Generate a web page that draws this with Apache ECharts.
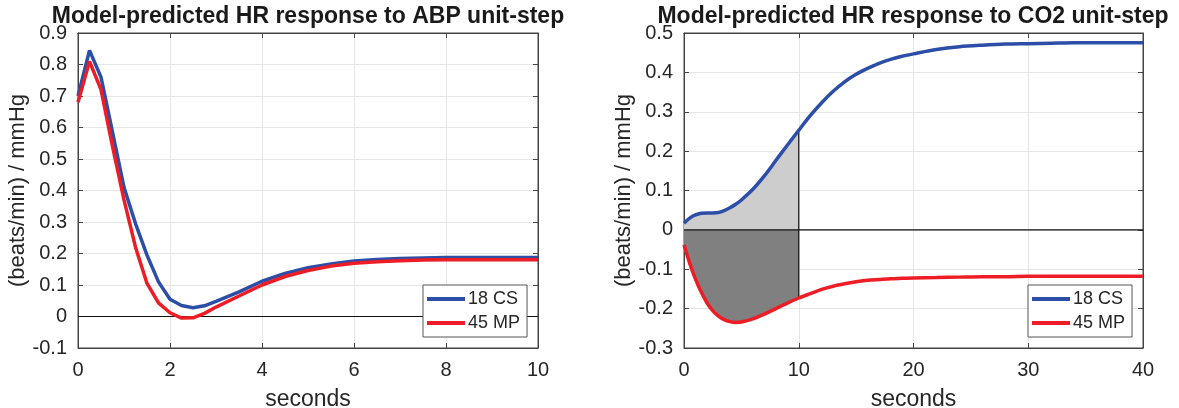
<!DOCTYPE html>
<html>
<head>
<meta charset="utf-8">
<script src="https://cdn.jsdelivr.net/npm/echarts@6/dist/echarts.min.js"></script>
<style>
  html, body { margin: 0; padding: 0; background: #fff; }
  #chart { width: 1179px; height: 408px; }
</style>
</head>
<body>
<div id="chart"></div>
<script>
// ABP unit-step response, sampled every 0.25 s early on
const abpTime = [0, 0.25, 0.5, 0.75, 1, 1.25, 1.5, 1.75, 2, 2.25, 2.5, 2.75, 3,
                 3.5, 4, 4.5, 5, 5.5, 6, 6.5, 7, 7.5, 8, 8.5, 9, 9.5, 10];
const abpCS = [0.70, 0.845, 0.76, 0.585, 0.41, 0.295, 0.195, 0.11, 0.055, 0.035, 0.028, 0.034, 0.048,
               0.078, 0.112, 0.137, 0.155, 0.167, 0.176, 0.181, 0.184, 0.186, 0.187, 0.187, 0.187, 0.187, 0.187];
const abpMP = [0.68, 0.81, 0.72, 0.54, 0.37, 0.22, 0.105, 0.043, 0.012, -0.005, -0.004, 0.01, 0.03,
               0.065, 0.10, 0.127, 0.146, 0.16, 0.169, 0.174, 0.177, 0.179, 0.18, 0.18, 0.18, 0.18, 0.18];

// CO2 unit-step response
const co2Time = [0, 0.5, 1, 1.5, 2, 2.5, 3, 3.5, 4, 4.5, 5, 6, 7, 8, 9, 10, 11, 12, 13, 14, 15, 16, 17, 18, 19, 20,
                 22, 24, 26, 28, 30, 32, 34, 36, 38, 40];
const co2CS = [0.017, 0.030, 0.038, 0.042, 0.043, 0.043, 0.044, 0.049, 0.056, 0.065, 0.076, 0.103, 0.137, 0.176, 0.215, 0.253,
               0.290, 0.323, 0.352, 0.376, 0.395, 0.410, 0.423, 0.433, 0.441, 0.447,
               0.458, 0.465, 0.469, 0.472, 0.473, 0.474, 0.475, 0.475, 0.475, 0.475];
const co2MP = [-0.038, -0.085, -0.125, -0.158, -0.185, -0.205, -0.219, -0.228, -0.233, -0.235, -0.234, -0.226, -0.214, -0.200, -0.186, -0.173,
               -0.162, -0.151, -0.143, -0.137, -0.132, -0.128, -0.126, -0.124, -0.123, -0.122,
               -0.121, -0.120, -0.119, -0.119, -0.118, -0.118, -0.118, -0.118, -0.118, -0.118];

// Interval over which the CO2 responses are shaded
const shadeEnd = 10;

const seriesNames = ['18 CS', '45 MP'];
const titles = ['Model-predicted HR response to ABP unit-step', 'Model-predicted HR response to CO2 unit-step'];
const yName = '(beats/min) / mmHg';
const xName = 'seconds';

const BLUE = '#2c4ea6';
const RED = '#ee1c25';
const FONT = '"Liberation Sans", Arial, sans-serif';
const SMOOTH = 0.3;

const pairs = (t, v) => t.map((x, i) => [x, v[i]]);
const shadeIdx = co2Time.indexOf(shadeEnd);

const gridBase = { top: 33, height: 315, show: true, borderColor: '#444', borderWidth: 1,
                   containLabel: false, outerBoundsMode: 'none' };
const grids = [
  Object.assign({ left: 78, width: 460 }, gridBase),
  Object.assign({ left: 684, width: 459 }, gridBase)
];

function mainX(gridIndex, max, interval) {
  return {
    type: 'value', gridIndex, min: 0, max, interval, position: 'bottom',
    name: xName, nameLocation: 'middle', nameGap: 40,
    nameTextStyle: { fontFamily: FONT, fontSize: 23, color: '#262626' },
    axisLine: { show: true, onZero: false, lineStyle: { color: '#444' } },
    axisTick: { show: true, inside: true, length: 5, lineStyle: { color: '#444' } },
    axisLabel: { fontFamily: FONT, fontSize: 20, color: '#262626', margin: 12 },
    splitLine: { show: true, lineStyle: { color: '#e6e6e6', width: 1 } }
  };
}
function topX(gridIndex, max, interval) {
  return {
    type: 'value', gridIndex, min: 0, max, interval, position: 'top',
    axisLine: { show: true, onZero: false, lineStyle: { color: '#444' } },
    axisTick: { show: true, inside: true, length: 5, lineStyle: { color: '#444' } },
    axisLabel: { show: false }, splitLine: { show: false }
  };
}
function mainY(gridIndex, min, max) {
  return {
    type: 'value', gridIndex, min, max, interval: 0.1, position: 'left',
    name: yName, nameLocation: 'middle', nameGap: 40, nameRotate: 90,
    nameTextStyle: { fontFamily: FONT, fontSize: 22, color: '#262626' },
    axisLine: { show: true, onZero: false, lineStyle: { color: '#444' } },
    axisTick: { show: true, inside: true, length: 5, lineStyle: { color: '#444' } },
    axisLabel: {
      fontFamily: FONT, fontSize: 20, color: '#262626', margin: 11,
      formatter: v => (Math.abs(v) < 1e-9 ? '0' : String(+v.toFixed(1)))
    },
    splitLine: { show: true, lineStyle: { color: '#e6e6e6', width: 1 } }
  };
}
function rightY(gridIndex, min, max) {
  return {
    type: 'value', gridIndex, min, max, interval: 0.1, position: 'right',
    axisLine: { show: true, onZero: false, lineStyle: { color: '#444' } },
    axisTick: { show: true, inside: true, length: 5, lineStyle: { color: '#444' } },
    axisLabel: { show: false }, splitLine: { show: false }
  };
}

function curve(name, data, color, xi, yi, smooth) {
  return {
    name, type: 'line', data, xAxisIndex: xi, yAxisIndex: yi,
    showSymbol: false, symbol: 'none', smooth, z: 5,
    lineStyle: { color, width: 3.5 }, itemStyle: { color }
  };
}
function shade(data, color, xi, yi) {
  return {
    type: 'line', data, xAxisIndex: xi, yAxisIndex: yi,
    showSymbol: false, symbol: 'none', smooth: SMOOTH, z: 2,
    lineStyle: { width: 0 }, areaStyle: { color, opacity: 1, origin: 0 }, silent: true
  };
}
function refLine(data, xi, yi) {
  return {
    type: 'line', data, xAxisIndex: xi, yAxisIndex: yi, z: 3,
    showSymbol: false, symbol: 'none', lineStyle: { color: '#111', width: 1.2 }, silent: true
  };
}
function legendAt(left) {
  return {
    data: seriesNames, orient: 'vertical', left, top: 285,
    backgroundColor: '#fff', borderColor: '#555', borderWidth: 1,
    padding: [5, 7, 5, 4], itemGap: 6, itemWidth: 38, itemHeight: 4, icon: 'rect',
    itemStyle: { borderWidth: 0 },
    textStyle: { fontFamily: FONT, fontSize: 18, color: '#262626', padding: [0, 0, 0, -2] }
  };
}
function titleAt(cx, text) {
  return {
    type: 'text', x: cx, y: 5,
    style: { text, font: 'bold 23px ' + FONT, fill: '#1a1a1a', align: 'center', verticalAlign: 'top' }
  };
}

const option = {
  animation: false,
  backgroundColor: '#fff',
  grid: grids,
  xAxis: [mainX(0, 10, 2), topX(0, 10, 2), mainX(1, 40, 10), topX(1, 40, 10)],
  yAxis: [mainY(0, -0.1, 0.9), rightY(0, -0.1, 0.9), mainY(1, -0.3, 0.5), rightY(1, -0.3, 0.5)],
  legend: [legendAt(423), legendAt(1028)],
  graphic: [titleAt(308, titles[0]), titleAt(913, titles[1])],
  series: [
    // left panel: zero reference and responses
    refLine([[0, 0], [10, 0]], 0, 0),
    curve(seriesNames[0], pairs(abpTime, abpCS), BLUE, 0, 0, false),
    curve(seriesNames[1], pairs(abpTime, abpMP), RED, 0, 0, false),

    // right panel: shaded regions up to shadeEnd, zero line, closing edge
    shade(pairs(co2Time.slice(0, shadeIdx + 1), co2CS.slice(0, shadeIdx + 1)), '#cdcdcd', 2, 2),
    shade(pairs(co2Time.slice(0, shadeIdx + 1), co2MP.slice(0, shadeIdx + 1)), '#808080', 2, 2),
    refLine([[0, 0], [40, 0]], 2, 2),
    refLine([[shadeEnd, co2CS[shadeIdx]], [shadeEnd, co2MP[shadeIdx]]], 2, 2),
    curve(seriesNames[0], pairs(co2Time, co2CS), BLUE, 2, 2, SMOOTH),
    curve(seriesNames[1], pairs(co2Time, co2MP), RED, 2, 2, SMOOTH)
  ]
};

const chart = echarts.init(document.getElementById('chart'), null, { renderer: 'canvas' });
chart.setOption(option);
</script>
</body>
</html>
